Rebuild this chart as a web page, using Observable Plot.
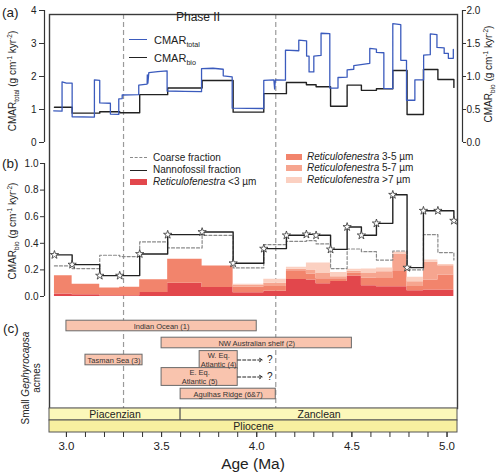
<!DOCTYPE html>
<html><head><meta charset="utf-8">
<script src="https://cdn.jsdelivr.net/npm/d3@7"></script>
<script src="https://cdn.jsdelivr.net/npm/@observablehq/plot@0.6"></script>
<style>
body{margin:0;background:#fff;}
#wrap{position:relative;width:500px;height:474px;font-family:"Liberation Sans",Arial,Helvetica,sans-serif;color:#222;overflow:hidden;background:#fff}
.t{position:absolute;white-space:nowrap;line-height:1;}
.t sub,.t sup{font-size:65%;line-height:0;}
</style></head><body><div id="wrap"></div>
<script>
// ---------- data ----------
const xDomain = [2.911, 5.055];
const phaseBounds = [3.3, 4.1];

// (a) CMAR_total (left axis, g cm-1 kyr-2)
const totalAge = [2.933,2.977,2.977,3.000,3.030,3.030,3.147,3.147,3.175,3.175,3.231,3.231,3.275,3.275,3.293,3.293,3.380,3.380,3.424,3.425,3.428,3.433,3.480,3.529,3.529,3.620,3.710,3.710,3.770,3.824,3.824,3.871,3.871,4.037,4.037,4.090,4.094,4.098,4.151,4.151,4.221,4.221,4.262,4.262,4.275,4.275,4.300,4.300,4.338,4.338,4.384,4.384,4.427,4.427,4.475,4.475,4.510,4.510,4.594,4.594,4.629,4.629,4.668,4.668,4.715,4.715,4.757,4.757,4.787,4.787,4.831,4.831,4.877,4.877,4.912,4.912,4.947,4.947,4.985,4.985,5.007,5.007,5.033,5.033];
const totalVal = [0.96,0.95,1.84,1.80,1.80,0.78,0.77,1.90,1.88,1.20,1.19,0.86,0.85,1.32,1.33,1.44,1.45,1.74,1.77,2.05,1.80,2.12,2.15,2.17,1.56,1.55,1.54,2.24,2.25,2.22,2.02,1.99,1.04,1.03,1.88,1.90,1.62,1.90,1.89,2.80,2.78,3.10,3.08,2.62,2.62,2.14,2.14,2.62,2.64,3.31,3.30,1.65,1.65,1.97,1.98,2.20,2.22,2.33,2.40,2.85,2.83,2.73,2.72,1.64,1.63,3.60,3.57,2.49,2.49,1.28,1.28,1.90,1.90,2.65,2.66,3.29,3.27,2.88,2.87,2.70,2.70,2.55,2.55,2.82];

// sample ages (Ma) shared by CMAR_bio and panel (b)
const sampleAge = [2.937,3.030,3.175,3.280,3.385,3.532,3.713,3.876,4.037,4.156,4.261,4.312,4.388,4.475,4.550,4.629,4.715,4.790,4.876,4.952,5.036];
// (a) CMAR_bio (right axis)
const bioCmar = [0.535,0.445,0.465,0.450,0.725,0.825,0.940,0.460,0.740,0.910,0.875,0.845,0.550,0.870,0.790,0.815,1.090,0.425,1.105,0.955,0.835];
// (b) CMAR_bio fractions
const nannoFrac = [0.313,0.240,0.157,0.157,0.320,0.465,0.485,0.250,0.360,0.460,0.467,0.460,0.354,0.523,0.460,0.550,0.765,0.217,0.645,0.645,0.570];
const coarseFrac = [0.230,0.210,0.310,0.300,0.410,0.365,0.460,0.215,0.390,0.415,0.420,0.395,0.210,0.357,0.337,0.274,0.342,0.200,0.465,0.330,0.275];
// Reticulofenestra size classes (per sample interval)
const retLt3 = [0.018,0.013,0.006,0.006,0.030,0.100,0.067,0.028,0.040,0.128,0.124,0.096,0.112,0.155,0.081,0.073,0.073,0.043,0.048,0.048];
const ret35  = [0.138,0.080,0.057,0.064,0.096,0.180,0.162,0.042,0.035,0.066,0.045,0.038,0.021,0.020,0.059,0.063,0.121,0.033,0.076,0.114];
const ret57  = [0,0,0,0,0,0,0,0.015,0.025,0.011,0.031,0.038,0.016,0.015,0.032,0.051,0.124,0.035,0.133,0.070];
const retGt7 = [0,0,0,0,0,0,0,0.007,0.030,0.015,0.052,0.080,0.032,0.015,0.035,0.028,0.017,0.033,0.018,0.008];
const sizeClasses = ["<3 µm","3-5 µm","5-7 µm",">7 µm"];
const sizeColors = ["#e2474c","#f2846c","#f6a58f","#fbd0c1"];

// (c) small Gephyrocapsa acmes
const acmeSite  = ["Indian Ocean (1)","NW Australian shelf (2)","Tasman Sea (3)","W. Eq.\nAtlantic (4)","E. Eq.\nAtlantic (5)","Agulhas Ridge (6&7)"];
const acmeStart = [3.0,3.5,3.1,3.7,3.5,3.6];
const acmeEnd   = [4.0,4.5,3.4,3.9,3.9,4.1];
const acmeRow   = [0,1,2,2,3,4];
const openRow   = [2,3];
const openFrom  = [3.9,3.9];
const openTo    = [4.03,4.03];
const openQ     = [4.068,4.068];

// geologic time scale
const stageName  = ["Piacenzian","Zanclean","Pliocene"];
const stageStart = [2.58,3.6,2.58];
const stageEnd   = [3.6,5.333,5.333];
const stageLevel = ["stage","stage","epoch"];

const ticksA = [0,1,2,3,4];
const ticksB = [0,0.2,0.4,0.6,0.8,1.0];
const xTicks = [3.0,3.5,4.0,4.5,5.0];
const xMinor = d3.range(30,51).map(d => d/10);

// ---------- helpers ----------
const FONT = '"Liberation Sans", Arial, Helvetica, sans-serif';
const AX = "#333";
const wrap = document.getElementById("wrap");
function base(h, mt, mb) {
  return {width: 500, height: h, marginLeft: 49, marginRight: 43, marginTop: mt, marginBottom: mb,
    style: {fontFamily: FONT, fontSize: "10px", color: "#222", background: "transparent", overflow: "visible"}};
}
function place(el, top) {
  el.style.position = "absolute"; el.style.left = "0px"; el.style.top = top + "px";
  wrap.appendChild(el);
}
function txt(html, x, y, {size = 10, anchor = "start", rotate = false, style = ""} = {}) {
  const d = document.createElement("div");
  d.className = "t";
  d.innerHTML = html;
  let tr = anchor === "middle" ? "translate(-50%,-50%)" : "translate(0,-50%)";
  if (rotate) tr = "translate(-50%,-50%) rotate(-90deg)";
  d.style.cssText += `left:${x}px;top:${y}px;font-size:${size}px;transform:${tr};${style}`;
  wrap.appendChild(d);
}
function swatch(x, y, w, h, css) {
  const d = document.createElement("div");
  d.style.cssText = `position:absolute;left:${x}px;top:${y}px;width:${w}px;height:${h}px;${css}`;
  wrap.appendChild(d);
}

const samples = sampleAge.map((age, i) => ({age, bio: bioCmar[i], nanno: nannoFrac[i], coarse: coarseFrac[i]}));
const totals = totalAge.map((age, i) => ({age, v: totalVal[i]}));
const layers = [retLt3, ret35, ret57, retGt7];
const areaData = [];
sampleAge.forEach((age, i) => layers.forEach((L, k) =>
  areaData.push({age, cls: sizeClasses[k], v: L[Math.min(i, L.length - 1)]})));
const acmes = acmeSite.map((s, i) => ({site: s, start: acmeStart[i], end: acmeEnd[i], row: acmeRow[i], two: s.includes("\n")}));
const opens = openRow.map((r, i) => ({row: r, from: openFrom[i], to: openTo[i], q: openQ[i]}));
const stages = stageName.map((n, i) => ({name: n, x1: Math.max(stageStart[i], xDomain[0]), x2: Math.min(stageEnd[i], xDomain[1]), level: stageLevel[i]}));

// ---------- frame + phase boundaries (behind) ----------
place(Plot.plot({
  ...base(408, 14, 0),
  x: {domain: xDomain, axis: null},
  marks: [
    Plot.ruleX(phaseBounds, {stroke: "#9a9a9a", strokeWidth: 1.2, strokeDasharray: "5,3"}),
    Plot.frame({stroke: "#3a3a3a", strokeWidth: 1.4})
  ]
}), 0);

// ---------- panel (a) ----------
place(Plot.plot({
  ...base(148, 10, 6),
  x: {domain: xDomain, axis: null, label: null},
  y: {domain: [0, 4], axis: null, label: null},
  marks: [
    Plot.ruleX([xDomain[0]], {y1: 0, y2: 4, dx: -5, stroke: AX, strokeWidth: 1.2}),
    Plot.axisY({anchor: "left", ticks: ticksA, tickSize: 5, tickPadding: 3, dx: -5, tickFormat: d => String(d), stroke: AX, label: null}),
    Plot.ruleX([xDomain[1]], {y1: 0, y2: 4, dx: 5, stroke: AX, strokeWidth: 1.2}),
    Plot.axisY({anchor: "right", ticks: ticksA, tickSize: 3, tickPadding: 1, dx: 5, tickFormat: d => (d / 2).toFixed(1), stroke: AX, label: null}),
    Plot.line(samples, {x: "age", y: d => d.bio * 2, curve: "step-after", stroke: "#222", strokeWidth: 1.4}),
    Plot.line(totals, {x: "age", y: "v", stroke: "#3b5bbd", strokeWidth: 1.3})
  ]
}), 0);

// ---------- panel (b) ----------
place(Plot.plot({
  ...base(150, 13, 4),
  x: {domain: xDomain, axis: null, label: null},
  y: {domain: [0, 1], axis: null, label: null},
  color: {domain: sizeClasses, range: sizeColors},
  marks: [
    Plot.ruleX([xDomain[0]], {y1: 0, y2: 1, dx: -5, stroke: AX, strokeWidth: 1.2}),
    Plot.axisY({anchor: "left", ticks: ticksB, tickSize: 4, tickPadding: 2, dx: -5, tickFormat: d => d.toFixed(1), stroke: AX, label: null}),
    Plot.areaY(areaData, {x: "age", y: "v", z: "cls", fill: "cls", curve: "step-after"}),
    Plot.line(samples, {x: "age", y: "coarse", curve: "step-after", stroke: "#8a8a8a", strokeWidth: 1.2, strokeDasharray: "3,2"}),
    Plot.line(samples, {x: "age", y: "nanno", curve: "step-after", stroke: "#222", strokeWidth: 1.4}),
    Plot.dot(samples, {x: "age", y: "nanno", symbol: "star", r: 2.6, fill: "white", stroke: "#333", strokeWidth: 0.8})
  ]
}), 150);

// ---------- panel (c) ----------
place(Plot.plot({
  ...base(98, 5, 4),
  x: {domain: xDomain, axis: null, label: null},
  y: {type: "band", domain: [0, 1, 2, 3, 4], padding: 0, axis: null, label: null},
  marks: [
    Plot.barX(acmes.filter(d => !d.two), {x1: "start", x2: "end", y: "row", fill: "#f9c4ae", stroke: "#6a6a6a", strokeWidth: 1, insetTop: 3.2, insetBottom: 3.2}),
    Plot.barX(acmes.filter(d => d.two), {x1: "start", x2: "end", y: "row", fill: "#f9c4ae", stroke: "#6a6a6a", strokeWidth: 1, insetTop: -0.4, insetBottom: -0.4}),
    Plot.text(acmes, {x: d => (d.start + d.end) / 2, y: "row", text: "site", fontSize: 7.5, lineHeight: 1.2, fill: "#333"}),
    Plot.arrow(opens, {x1: "from", x2: "to", y1: "row", y2: "row", stroke: "#222", strokeWidth: 1, strokeDasharray: "3,2", headLength: 5}),
    Plot.text(opens, {x: "q", y: "row", text: () => "?", fontSize: 10, fill: "#222"})
  ]
}), 310);

// ---------- time scale + x axis ----------
place(Plot.plot({
  ...base(66, 0, 42),
  x: {domain: xDomain, axis: null, label: null},
  y: {type: "band", domain: ["stage", "epoch"], padding: 0, axis: null, label: null},
  marks: [
    Plot.barX(stages, {x1: "x1", x2: "x2", y: "level", fill: d => d.level === "stage" ? "#fcf8ba" : "#f8f0a0", stroke: "#555", strokeWidth: 1}),
    Plot.text(stages, {x: d => (d.x1 + d.x2) / 2, y: "level", text: "name", fontSize: 10.5, fill: "#222"}),
    Plot.axisX({ticks: xMinor, tickSize: 5, tickFormat: () => "", stroke: AX, label: null}),
    Plot.axisX({ticks: xTicks, tickSize: 5, tickPadding: 4, tickFormat: d => d.toFixed(1), fontSize: 11.5, stroke: AX, label: null})
  ]
}), 408);

// ---------- text, legends ----------
txt("(a)", 2, 13, {size: 13.5});
txt("(b)", 2, 164, {size: 13.5});
txt("(c)", 3, 329, {size: 13.5});
txt("Phase II", 198, 17, {size: 12, anchor: "middle"});
txt("CMAR<sub>total</sub> (g cm<sup>-1</sup> kyr<sup>-2</sup>)", 13, 81, {rotate: true});
txt("CMAR<sub>bio</sub> (g cm<sup>-1</sup> kyr<sup>-2</sup>)", 489, 74, {rotate: true});
txt("CMAR<sub>bio</sub> (g cm<sup>-1</sup> kyr<sup>-2</sup>)", 13, 231, {rotate: true});
txt("Small <i>Gephyrocapsa</i><br>acmes", 31, 378, {rotate: true, style: "text-align:center;line-height:11px;"});
txt("Age (Ma)", 253, 464, {size: 15.5, anchor: "middle"});

// legend (a)
swatch(129, 38.5, 18, 0, "border-top:1.5px solid #3b5bbd");
txt("CMAR<sub>total</sub>", 154, 40, {size: 11});
swatch(129, 56.5, 18, 0, "border-top:1.5px solid #222");
txt("CMAR<sub>bio</sub>", 154, 58, {size: 11});

// legend (b) left
swatch(130, 157, 17, 0, "border-top:1.2px dashed #8a8a8a");
txt("Coarse fraction", 153, 158);
swatch(130, 169.5, 17, 0, "border-top:1.5px solid #222");
txt("Nannofossil fraction", 153, 170);
swatch(130, 179, 17, 6, "background:" + sizeColors[0]);
txt("<i>Reticulofenestra</i> &lt;3 µm", 153, 182);
// legend (b) right
swatch(286, 154, 16, 6, "background:" + sizeColors[1]);
txt("<i>Reticulofenestra</i> 3-5 µm", 307, 157);
swatch(286, 165, 16, 6, "background:" + sizeColors[2]);
txt("<i>Reticulofenestra</i> 5-7 µm", 307, 168);
swatch(286, 177, 16, 6, "background:" + sizeColors[3]);
txt("<i>Reticulofenestra</i> &gt;7 µm", 307, 180);
</script>
</body></html>
